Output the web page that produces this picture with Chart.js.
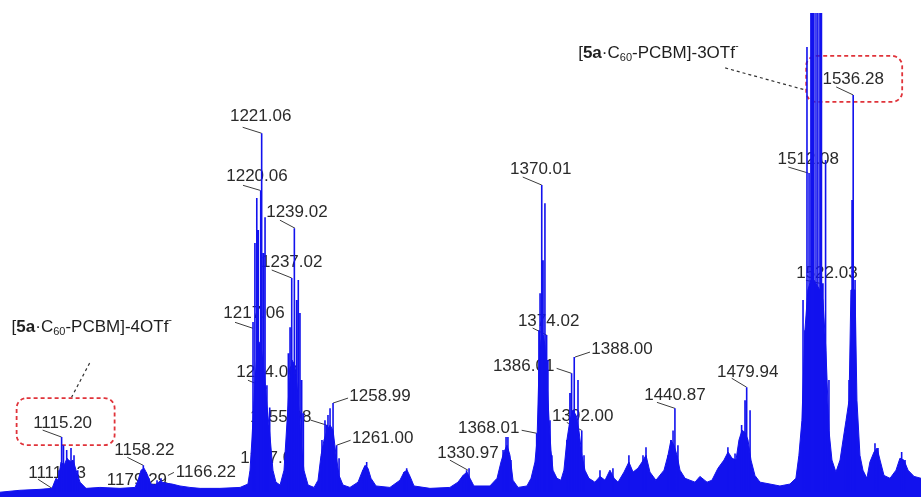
<!DOCTYPE html>
<html lang="en">
<head>
<meta charset="UTF-8" />
<title>ESI-MS spectrum</title>
<script src="https://cdn.jsdelivr.net/npm/chart.js"></script>
<style>
  html, body { margin: 0; padding: 0; background: #fff; }
</style>
</head>
<body>
<canvas id="spectrum" width="921" height="497"></canvas>
<script>
// m/z window shown in the figure
const mzMin = 1082.2;
const mzMax = 1572.5;

// baseline / cluster envelope (filled)
const envMz = [1082.2, 1092.8, 1103.5, 1109.9, 1112.0, 1113.1, 1114.7, 1116.3, 1117.9, 1119.5, 1121.1, 1122.7, 1124.8, 1128.0,
  1135.4, 1146.1, 1154.1, 1155.7, 1157.3, 1158.9, 1160.5, 1162.6, 1164.7, 1167.4, 1170.0, 1173.8, 1178.0, 1183.3, 1188.7,
  1199.3, 1210.0, 1214.2, 1215.3, 1216.3, 1218.0, 1219.5, 1221.1, 1222.7, 1224.3, 1225.9, 1227.5, 1229.1, 1231.3, 1233.4,
  1234.4, 1236.0, 1237.6, 1239.2, 1240.8, 1242.4, 1244.0, 1246.2, 1249.4, 1251.5, 1253.1, 1254.7, 1256.3, 1257.9, 1259.5,
  1261.1, 1262.7, 1264.8, 1268.5, 1272.8, 1274.9, 1276.5, 1278.1, 1279.7, 1282.4, 1289.8, 1295.1, 1297.3, 1298.9, 1300.5,
  1302.6, 1311.1, 1321.7, 1326.0, 1328.7, 1330.8, 1332.4, 1334.5, 1343.0, 1346.8, 1348.9, 1350.5, 1352.1, 1353.7, 1355.3,
  1358.0, 1362.7, 1364.9, 1367.0, 1368.1, 1369.1, 1370.2, 1371.3, 1372.3, 1373.4, 1374.5, 1375.5, 1376.6, 1378.7, 1380.8,
  1382.4, 1384.0, 1385.6, 1387.2, 1388.8, 1390.4, 1392.0, 1393.6, 1395.7, 1398.9, 1401.6, 1404.3, 1406.9, 1409.1, 1411.2,
  1414.4, 1417.0, 1419.2, 1421.8, 1424.0, 1426.1, 1428.2, 1431.4, 1435.7, 1437.8, 1439.4, 1441.0, 1442.6, 1444.2, 1446.9,
  1449.5, 1452.2, 1454.8, 1458.6, 1461.2, 1464.4, 1467.6, 1469.8, 1471.9, 1474.0, 1475.6, 1477.2, 1478.8, 1480.4, 1482.0,
  1484.1, 1486.8, 1492.1, 1497.4, 1502.7, 1505.9, 1507.5, 1509.1, 1510.7, 1512.3, 1513.9, 1515.5, 1517.1, 1518.7, 1520.3,
  1521.9, 1523.5, 1525.1, 1527.2, 1529.4, 1531.0, 1532.6, 1534.2, 1535.2, 1537.4, 1538.4, 1540.0, 1541.6, 1543.7, 1545.3,
  1547.5, 1549.1, 1550.7, 1552.8, 1556.0, 1559.2, 1561.3, 1563.4, 1565.6, 1568.8, 1572.5];
const envInt = [0, 0.4, 0.6, 0.8, 2.9, 2.5, 6.3, 5.6, 7.1, 6.3, 6.7, 4.6, 2.1, 0.8,
  1.0, 0.8, 1.0, 2.5, 4.6, 5.0, 3.8, 1.7, 1.5, 2.3, 1.9, 1.7, 1.3, 1.0, 0.8,
  0.8, 1.0, 1.7, 4.6, 10.9, 23.4, 31.7, 30.7, 25.5, 18.2, 11.9, 4.6, 2.1, 1.5, 4.6,
  10.9, 21.3, 27.6, 26.5, 20.3, 10.9, 4.6, 1.5, 1.0, 2.5, 7.7, 10.9, 12.9, 14.0, 12.9,
  7.7, 3.5, 1.5, 1.0, 2.1, 4.2, 5.6, 5.0, 2.9, 1.3, 1.0, 2.5, 4.2, 4.6, 3.3,
  1.3, 0.8, 1.0, 2.1, 3.5, 4.2, 2.9, 1.3, 1.3, 2.9, 6.3, 8.4, 9.8, 7.7, 2.5,
  1.0, 1.3, 2.9, 6.3, 10.9, 25.5, 31.7, 32.8, 30.7, 23.4, 15.0, 8.8, 4.6, 2.9, 2.5,
  4.6, 10.9, 15.0, 17.1, 16.1, 12.9, 7.7, 4.6, 2.9, 2.1, 3.3, 2.5, 4.6, 2.9, 2.1,
  4.2, 6.3, 4.2, 5.0, 6.3, 7.7, 4.2, 2.5, 4.6, 7.7, 10.9, 9.8, 7.7, 4.6, 2.9,
  2.5, 2.1, 3.3, 2.1, 2.5, 5.0, 6.7, 8.4, 7.1, 6.7, 10.9, 12.9, 12.5, 10.9, 6.7,
  3.5, 2.1, 1.7, 1.3, 1.7, 2.9, 7.7, 15.0, 33.8, 42.2, 44.3, 44.3, 43.2, 42.2, 40.1,
  29.6, 12.9, 6.7, 4.2, 6.7, 10.9, 15.0, 19.2, 42.2, 42.2, 19.2, 7.7, 4.6, 2.9, 6.3,
  8.4, 9.2, 6.7, 3.5, 2.9, 4.6, 7.1, 6.7, 4.6, 3.3, 2.9];

// individual isotope lines (sticks)
const stickMz = [1111.5, 1113.6, 1115.0, 1116.0, 1117.7, 1118.9, 1120.0, 1121.6, 1123.6,
  1156.7, 1158.5, 1159.9, 1161.5, 1165.8, 1167.9, 1170.0, 1179.6,
  1216.9, 1217.9, 1218.9, 1219.7, 1221.0, 1221.5, 1222.4, 1223.3, 1224.3, 1225.6, 1225.9,
  1235.7, 1236.6, 1237.5, 1238.9, 1240.1, 1241.0, 1241.9, 1242.8, 1243.7,
  1253.6, 1255.2, 1256.1, 1256.8, 1257.9, 1259.5, 1261.4, 1262.7,
  1275.4, 1277.4, 1297.3, 1298.7, 1328.7, 1330.6, 1331.9, 1350.0, 1351.6, 1352.6, 1354.2,
  1367.9, 1369.1, 1369.7, 1370.6, 1371.3, 1372.3, 1373.2, 1373.9, 1375.0, 1376.0,
  1384.0, 1385.6, 1386.5, 1387.9, 1389.9, 1391.9, 1393.1,
  1401.6, 1408.5, 1417.0, 1424.5, 1426.1,
  1437.8, 1439.4, 1440.5, 1441.5, 1443.1,
  1469.7, 1473.5, 1477.0, 1478.8, 1479.7, 1481.5,
  1509.7, 1510.7, 1511.8, 1512.9, 1513.9, 1514.7, 1515.5, 1516.6, 1517.6, 1518.7, 1519.5, 1520.3, 1521.4, 1521.9, 1523.5,
  1532.0, 1533.1, 1534.2, 1535.8, 1536.4, 1537.4,
  1548.0, 1549.6, 1562.2, 1564.0];
const stickInt = [2.1, 4.6, 11.5, 9.8, 8.8, 6.7, 9.2, 7.7, 4.6,
  3.5, 5.6, 4.2, 2.9, 2.5, 2.9, 2.1, 1.0,
  35.5, 52.0, 61.4, 54.7, 63.0, 74.9, 49.9, 57.4, 22.3, 17.7, 5.6,
  29.0, 34.4, 44.7, 55.1, 40.1, 44.3, 37.4, 23.4, 16.5,
  10.9, 15.0, 14.0, 16.1, 17.5, 18.6, 9.8, 7.1,
  4.6, 6.3, 4.2, 5.0, 3.5, 4.6, 5.0, 8.8, 11.5, 11.5, 6.7,
  12.3, 33.8, 41.5, 64.1, 48.4, 60.3, 32.8, 27.6, 15.0, 7.7,
  10.9, 20.7, 24.8, 28.2, 23.4, 12.9, 7.7,
  4.6, 5.0, 7.7, 7.7, 9.4,
  7.7, 10.9, 12.9, 17.5, 9.8,
  9.4, 8.1, 14.0, 19.2, 21.9, 17.1,
  40.1, 33.8, 92.9, 66.6, 120, 120, 120, 120, 120, 120, 120, 43.6, 69.3, 40.1, 23.4,
  12.3, 15.0, 23.4, 61.0, 82.9, 44.3,
  10.2, 9.2, 8.4, 6.7];

// peak annotations: text and the point each leader line touches
const labelText = ['1221.06', '1220.06', '1239.02', '1237.02', '1217.06', '1224.06', '1255.98', '1258.99', '1261.00',
  '1227.07', '1115.20', '1111.13', '1158.22', '1179.29', '1166.22', '1330.97', '1368.01', '1370.01', '1374.02',
  '1386.01', '1388.00', '1392.00', '1440.87', '1479.94', '1512.08', '1522.03', '1536.28'];
const labelMz = [1221.5, 1220.6, 1239.2, 1237.5, 1216.9, 1224.3, 1256.1, 1259.5, 1261.4,
  1225.9, 1115.0, 1111.5, 1158.5, 1179.6, 1171.6, 1331.3, 1367.9, 1370.6, 1373.2,
  1386.5, 1388.3, 1391.9, 1441.5, 1479.7, 1512.5, 1518.7, 1536.4];
const labelInt = [74.9, 63.0, 55.1, 44.7, 34.2, 21.7, 14.0, 18.6, 9.8,
  5.2, 11.5, 0.4, 5.6, 0.6, 3.5, 4.6, 12.3, 64.1, 32.8,
  24.8, 28.2, 12.9, 17.5, 21.9, 66.6, 43.6, 82.9];

// layout: text centre offset (dx, dy) and leader start (lx, ly), px from the peak point
const labelLayout = [[-1, -17, -19, -6], [-3, -14, -17, -5], [2, -16, -15, -8], [0, -16, -20, -8], [1, -15, -18, -6],
  [0, -16, -19, -8], [-46, -8, -16, -5], [47, -7, 15, -5], [46, -7, 14, -5],
  [1, -9, -15, -5], [1, -14, -19, -7], [2, -17, -17, -11], [1, -15, -16, -8], [-46, -9, -18, -7], [38, -3, 6, -3],
  [0, -17, -18, -10], [-48, -5, -15, -3], [-1, -16, -19, -8], [2, -14, -14, -7],
  [-48, -7, -15, -5], [47, -8, 15, -5], [1, -14, -15, -8], [0, -13, -18, -6], [1, -15, -15, -9],
  [0, -14, -20, -6], [7, -10, -14, -3], [0, -16, -17, -8]];

// species callouts, hung on a labelled peak
const callouts = [
  { label: '1115.20', charge: '4', box: [-46, -25, 98, 47], text: [-51, -96], lead: [27, -60, 9, -26] },
  { label: '1536.28', charge: '3', box: [-47, -23, 96, 46], text: [-275, -26], lead: [-128, -11, -48, 11] }
];

const FONT = '"Liberation Sans", Arial, sans-serif';
const BLUE = '#1212ee';

const env = envMz.map((m, i) => ({ x: m, y: envInt[i] }));
const sticks = stickMz.map((m, i) => ({ m: m, h: stickInt[i] })).sort((a, b) => a.m - b.m);
const stickPoints = [];
sticks.forEach(s => {
  stickPoints.push({ x: s.m, y: 0 }, { x: s.m, y: s.h }, { x: s.m, y: 0 });
});

function drawFormula(ctx, x0, yc, charge) {
  const parts = [
    ['[', '', 17, 0], ['5a', 'bold ', 17, 0], ['\u00B7C', '', 17, 0], ['60', '', 11, 5],
    ['-PCBM]-' + charge + 'OTf', '', 17, 0], ['-', '', 11, -7]
  ];
  let xx = x0;
  ctx.textAlign = 'left';
  parts.forEach(p => {
    ctx.font = p[1] + p[2] + 'px ' + FONT;
    ctx.fillText(p[0], xx, yc + p[3]);
    xx += ctx.measureText(p[0]).width;
  });
}

const annotate = {
  id: 'annotate',
  beforeDatasetsDraw(chart) {
    const ctx = chart.ctx;
    const xs = chart.scales.x, ys = chart.scales.y;
    ctx.save();
    ctx.textBaseline = 'middle';
    const centres = {};
    labelText.forEach((t, i) => {
      const px = xs.getPixelForValue(labelMz[i]);
      const py = ys.getPixelForValue(labelInt[i]);
      const [dx, dy, lx, ly] = labelLayout[i];
      ctx.strokeStyle = '#3c3c3c';
      ctx.lineWidth = 1;
      ctx.beginPath();
      ctx.moveTo(px + lx, py + ly);
      ctx.lineTo(px, py);
      ctx.stroke();
      ctx.fillStyle = '#2a2a2a';
      ctx.font = '17px ' + FONT;
      ctx.textAlign = 'center';
      ctx.fillText(t, px + dx, py + dy);
      centres[t] = [px + dx, py + dy];
    });

    callouts.forEach(c => {
      const [cx, cy] = centres[c.label];
      ctx.setLineDash([4, 3]);
      ctx.strokeStyle = '#e0333a';
      ctx.lineWidth = 1.8;
      ctx.beginPath();
      ctx.roundRect(cx + c.box[0], cy + c.box[1], c.box[2], c.box[3], 10);
      ctx.stroke();
      ctx.strokeStyle = '#333';
      ctx.lineWidth = 1.2;
      ctx.setLineDash([3, 3]);
      ctx.beginPath();
      ctx.moveTo(cx + c.lead[0], cy + c.lead[1]);
      ctx.lineTo(cx + c.lead[2], cy + c.lead[3]);
      ctx.stroke();
      ctx.setLineDash([]);
      ctx.fillStyle = '#1e1e1e';
      drawFormula(ctx, cx + c.text[0], cy + c.text[1], c.charge);
    });
    ctx.restore();
  }
};

new Chart(document.getElementById('spectrum'), {
  type: 'line',
  data: {
    datasets: [
      {
        data: stickPoints,
        borderColor: BLUE,
        borderWidth: 1.6,
        pointRadius: 0,
        fill: false
      },
      {
        data: env,
        borderColor: BLUE,
        backgroundColor: BLUE,
        borderWidth: 1,
        pointRadius: 0,
        fill: 'start'
      }
    ]
  },
  options: {
    responsive: false,
    animation: false,
    layout: { padding: { top: 13, left: 0, right: 0, bottom: 0 } },
    elements: { line: { tension: 0 } },
    scales: {
      x: { type: 'linear', min: mzMin, max: mzMax, display: false },
      y: { min: -1, max: 100, display: false }
    },
    plugins: {
      legend: { display: false },
      tooltip: { enabled: false }
    }
  },
  plugins: [annotate]
});
</script>
</body>
</html>
